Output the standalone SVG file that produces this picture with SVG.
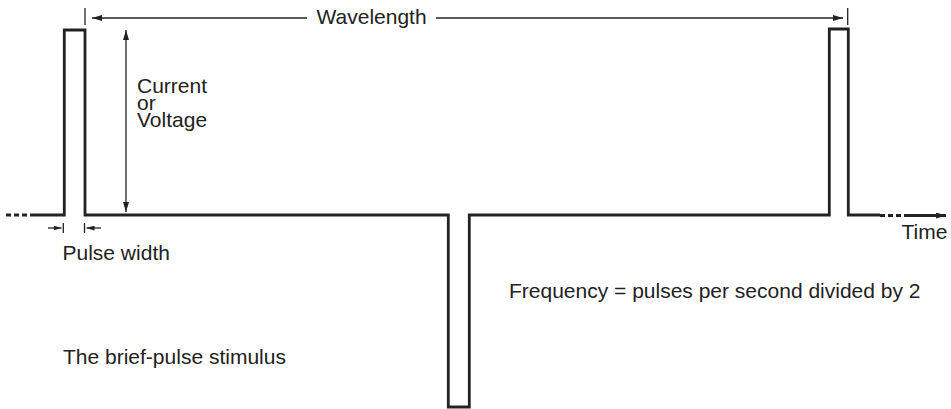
<svg xmlns="http://www.w3.org/2000/svg" width="951" height="409" viewBox="0 0 951 409">
<defs>
<style>
.wave{fill:none;stroke:#222;stroke-width:2.8;stroke-linejoin:miter}
.dash{fill:none;stroke:#222;stroke-width:2.8;stroke-dasharray:5 3}
.thin{fill:none;stroke:#222;stroke-width:1.3}
.txt{font-family:"Liberation Sans",Arial,sans-serif;font-size:21px;fill:#222}
</style>
<marker id="ah" viewBox="0 0 10 6" refX="10" refY="3" markerWidth="11" markerHeight="6" markerUnits="userSpaceOnUse" orient="auto-start-reverse">
<path d="M0,0 L10,3 L0,6 Z" fill="#222"/>
</marker>
<marker id="ahs" viewBox="0 0 10 6" refX="10" refY="3" markerWidth="8" markerHeight="5" markerUnits="userSpaceOnUse" orient="auto-start-reverse">
<path d="M0,0 L10,3 L0,6 Z" fill="#222"/>
</marker>
</defs>
<g id="waveform">
<path class="dash" d="M6,215 H30"/>
<path class="wave" d="M30,215 H64.3 V30 H85 V215 H448.3 V407 H469.3 V215 H829.3 V29 H848.3 V215 H880"/>
<path class="dash" d="M880,215.5 H907"/>
<path class="wave" d="M907,215.5 H946" marker-end="url(#ah)"/>
</g>
<g id="connectors">
<g id="wavelength-dim">
<line class="thin" x1="85" y1="8" x2="85" y2="25"/>
<line class="thin" x1="847.7" y1="8" x2="847.7" y2="25"/>
<line class="thin" x1="92" y1="18" x2="307" y2="18" marker-start="url(#ah)"/>
<line class="thin" x1="436" y1="18" x2="843" y2="18" marker-end="url(#ah)"/>
</g>
<g id="amplitude-dim">
<line class="thin" x1="126" y1="30" x2="126" y2="212" marker-start="url(#ah)" marker-end="url(#ah)"/>
</g>
<g id="pulsewidth-dim">
<line class="thin" x1="63.3" y1="223" x2="63.3" y2="233"/>
<line class="thin" x1="84.5" y1="223" x2="84.5" y2="233"/>
<line class="thin" x1="48" y1="228" x2="61.5" y2="228" marker-end="url(#ahs)"/>
<line class="thin" x1="101" y1="228" x2="86.5" y2="228" marker-end="url(#ahs)"/>
</g>
</g>
<g id="labels">
<text id="label-wavelength" class="txt" x="316.5" y="24">Wavelength</text>
<text id="label-current" class="txt" x="137" y="93">Current</text>
<text id="label-or" class="txt" x="137" y="110">or</text>
<text id="label-voltage" class="txt" x="137" y="127">Voltage</text>
<text id="label-pulsewidth" class="txt" x="62.5" y="259.5">Pulse width</text>
<text id="label-time" class="txt" x="901.5" y="239">Time</text>
<text id="label-frequency" class="txt" x="509" y="298">Frequency = pulses per second divided by 2</text>
<text id="label-title" class="txt" x="63" y="364">The brief-pulse stimulus</text>
</g>
</svg>
